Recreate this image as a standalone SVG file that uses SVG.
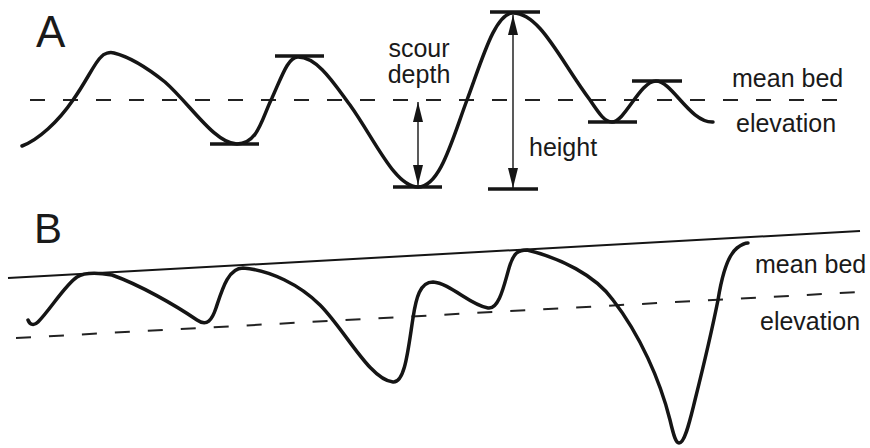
<svg xmlns="http://www.w3.org/2000/svg" width="870" height="448" viewBox="0 0 870 448">
  <defs>
    <marker id="ah" markerUnits="userSpaceOnUse" markerWidth="21" markerHeight="11" refX="20" refY="5.5" orient="auto-start-reverse">
      <path d="M0,0.5 L20,5.5 L0,10.5 z" fill="#151515"/>
    </marker>
  </defs>
  <style>
    .bed{fill:none;stroke:#151515;stroke-width:3.5;stroke-linecap:round;stroke-linejoin:round}
    .bar{stroke:#151515;stroke-width:3.5;stroke-linecap:butt}
    .dash{fill:none;stroke:#222;stroke-width:2;stroke-dasharray:15 18}
    .solid{fill:none;stroke:#151515;stroke-width:2}
    .arr{stroke:#151515;stroke-width:1.4}
    text{font-family:"Liberation Sans",Arial,Helvetica,sans-serif;fill:#1a1a1a}
    .lbl{font-size:25px}
  </style>
  <rect width="870" height="448" fill="#ffffff"/>

  <g id="panelA">
    <text x="36" y="47" font-size="44">A</text>
    <line class="dash" x1="30" y1="100" x2="846" y2="100"/>
    <path class="bed" d="M22,146 C38,140 58,122 73,100 C86,82 95,62 101,57 C104,53 110,52 114,53 C130,57 150,70 165,82 C190,104 215,144 237,144 C258,144 262,118 272,98 C282,76 288,57 298,57 C318,57 335,85 350,105 C375,140 395,187 418,187 C440,187 452,140 467,100 C482,60 495,13 513,13 C540,13 560,60 590,100 C600,115 605,122 612,122 C625,122 640,81 656,81 C672,81 690,123 713,122"/>
    <g id="barsA">
      <line class="bar" x1="210" y1="144" x2="259" y2="144"/>
      <line class="bar" x1="275" y1="56" x2="324" y2="56"/>
      <line class="bar" x1="393" y1="187" x2="442" y2="187"/>
      <line class="bar" x1="490" y1="12" x2="540" y2="12"/>
      <line class="bar" x1="488" y1="189" x2="538" y2="189"/>
      <line class="bar" x1="588" y1="122" x2="637" y2="122"/>
      <line class="bar" x1="632" y1="81" x2="682" y2="81"/>
    </g>
    <g id="connectors">
      <line class="arr" x1="418" y1="102" x2="418" y2="185" marker-start="url(#ah)" marker-end="url(#ah)"/>
      <line class="arr" x1="513" y1="15" x2="513" y2="188" marker-start="url(#ah)" marker-end="url(#ah)"/>
    </g>
    <text class="lbl" x="419" y="57" text-anchor="middle">scour</text>
    <text class="lbl" x="419" y="83" text-anchor="middle">depth</text>
    <text class="lbl" x="529" y="156">height</text>
    <text class="lbl" x="732" y="87">mean bed</text>
    <text class="lbl" x="736" y="132">elevation</text>
  </g>

  <g id="panelB">
    <text x="34" y="243" font-size="42">B</text>
    <line class="solid" x1="8" y1="278" x2="860" y2="231"/>
    <line class="dash" x1="16" y1="338" x2="860" y2="292"/>
    <path class="bed" d="M28,320 C30,325 34,326 38,322 C50,310 65,285 77,277 C85,272 100,273 112,275 C140,285 175,305 197,320 C207,327 212,320 216,308 C222,290 228,268 243,268 C270,270 300,285 320,305 C345,330 370,380 393,382 C405,383 408,350 413,318 C416,298 420,282 433,282 C450,283 470,305 488,308 C500,310 505,280 510,265 C514,253 518,250 527,250 C560,258 595,275 613,300 C640,335 660,380 670,420 C674,437 676,443 679,443 C685,443 690,420 695,400 C705,360 712,330 718,300 C722,275 728,255 737,248 C741,245 745,243 748,243"/>
    <text class="lbl" x="755" y="273">mean bed</text>
    <text class="lbl" x="760" y="330">elevation</text>
  </g>
</svg>
